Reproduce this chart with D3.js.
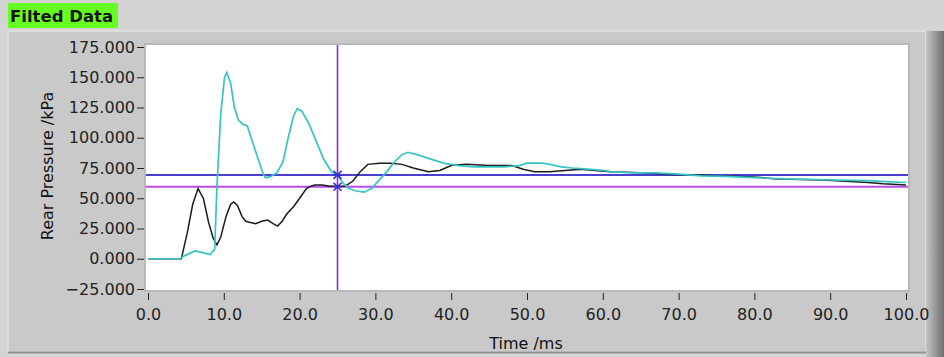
<!DOCTYPE html>
<html><head><meta charset="utf-8">
<script src="https://cdn.jsdelivr.net/npm/d3@7"></script>
<style>
html,body{margin:0;padding:0;background:#d3d3d3;}
svg{display:block;font-family:"DejaVu Sans",sans-serif;}
</style></head><body>
<svg id="c" width="944" height="357"></svg>
<script>
const title = "Filted Data";
const xLabel = "Time /ms";
const yLabel = "Rear Pressure /kPa";
const xTicks = [0,10,20,30,40,50,60,70,80,90,100];
const yTicks = [-25,0,25,50,75,100,125,150,175];
const cursorTime = 25;
const cursorHighA = 69.3;
const cursorLowB = 59.5;

const cyanT = [0,4.2,5,6.2,7.2,8.2,8.8,9.1,9.6,10.1,10.4,10.9,11.4,11.9,12.5,13.1,13.6,14.4,15.2,15.5,16.2,17,17.8,18.5,19.2,19.7,20.3,21.2,22.2,23.2,24.2,25,25.8,26.5,27.5,28.5,29.5,30.5,31.5,32.5,33.5,34.3,35.5,37,39,41,43,45,47,49,50,52,53,54.5,56,58,60,61,64,67,70,73,76,80,84,88,91,95,98,100];
const cyanV = [0,0,3,6.5,5,3.5,8,60,120,150,154,145,125,115,111,110,100,85,70,67,68,71,80,100,118,124,122,112,97,82,72,69,62,58,56,55,58,65,72,80,86,88,86,83,79,77,76,76,76,77,79,79,78,76,75,74,73,72,71,71,70,68.5,68,67,66,65.5,65,64.5,63.5,63];

const blackT = [0,4.4,5.2,5.9,6.6,7.3,8,8.6,9.1,9.6,10.3,10.9,11.3,11.8,12.4,12.9,13.5,14.2,15,15.8,16.5,17.1,17.7,18.3,19.2,20,20.9,21.5,22,23,24,25,26,27,28,29,30.5,32,33.5,35,37,38.5,40,42,45,48,49.5,51,53,55,57,59,61,63,65,68,70,72,75,78,80,83,86,89,92,95,97,100];
const blackV = [0,0,22,45,58,50,30,17,11.5,18,35,45,47,44,35,31,30,29,31,32,29,27,31,37,43,50,58,60,61,61,60,60,60,64,72,78,79,79,78,75,72,73,77,78,77,77,74,72,72,73,74,73,72,71.5,71,70,69.5,69.5,68.5,68,67.5,66,65.5,65,64,63,62,61];

const svg = d3.select("#c");
const W = 944, H = 357;
const plot = {l:146, r:908, t:45, b:290};

const defs = svg.append("defs");
const g1 = defs.append("linearGradient").attr("id","rbar").attr("x1","0").attr("x2","1");
g1.append("stop").attr("offset","0").attr("stop-color","#c4c4c4");
g1.append("stop").attr("offset","0.5").attr("stop-color","#9a9a9a");
g1.append("stop").attr("offset","1").attr("stop-color","#6e6e6e");

svg.append("rect").attr("x",0).attr("y",0).attr("width",W).attr("height",H).attr("fill","#d4d4d4");
svg.append("rect").attr("x",8).attr("y",31).attr("width",918).attr("height",321).attr("fill","#c9c9c9")
  .attr("stroke","#e2e2e2").attr("stroke-width",1.5);
svg.append("line").attr("x1",8).attr("x2",926).attr("y1",352.5).attr("y2",352.5).attr("stroke","#8f8f8f").attr("stroke-width",2);
svg.append("rect").attr("x",926).attr("y",31).attr("width",18).attr("height",326).attr("fill","url(#rbar)");

svg.append("rect").attr("x",8).attr("y",3).attr("width",110).attr("height",25).attr("fill","#66ff22");
svg.append("text").attr("x",10).attr("y",22).attr("font-size",16.5).attr("font-weight","bold").attr("fill","#111").text(title);

svg.append("rect").attr("x",plot.l-2).attr("y",plot.t-2).attr("width",plot.r-plot.l+4).attr("height",plot.b-plot.t+4).attr("fill","#b8b8b8");
svg.append("rect").attr("x",plot.l).attr("y",plot.t).attr("width",plot.r-plot.l).attr("height",plot.b-plot.t).attr("fill","#ffffff");

const x = d3.scaleLinear().domain([0,100]).range([148,906]);
const y = d3.scaleLinear().domain([-25,175]).range([289,47]);

const xAxis = d3.axisBottom(x).tickValues(xTicks).tickFormat(d3.format(".1f")).tickSize(7).tickSizeOuter(0);
const gx = svg.append("g").attr("transform",`translate(0,${plot.b+3})`).call(xAxis);
gx.select(".domain").remove();
gx.selectAll("line").attr("stroke","#222");
gx.selectAll("text").attr("font-size",16).attr("fill","#222").attr("font-family","DejaVu Sans").attr("y",27).attr("dy",0);

const yAxis = d3.axisLeft(y).tickValues(yTicks).tickFormat(d3.format(".3f")).tickSize(7).tickSizeOuter(0);
const gy = svg.append("g").attr("transform",`translate(${plot.l-2},0)`).call(yAxis);
gy.select(".domain").remove();
gy.selectAll("line").attr("stroke","#222");
gy.selectAll("text").attr("font-size",16).attr("fill","#222").attr("font-family","DejaVu Sans").attr("x",-9);

svg.append("text").attr("x",526).attr("y",349).attr("text-anchor","middle").attr("font-size",16).attr("fill","#111").text(xLabel);
svg.append("text").attr("transform","translate(53,166) rotate(-90)").attr("text-anchor","middle").attr("font-size",16).attr("fill","#111").text(yLabel);

defs.append("clipPath").attr("id","pc").append("rect").attr("x",plot.l).attr("y",plot.t).attr("width",plot.r-plot.l).attr("height",plot.b-plot.t);
const pg = svg.append("g").attr("clip-path","url(#pc)");

const line = d3.line().x(d=>x(d[0])).y(d=>y(d[1]));
const black = blackT.map((t,i)=>[t,blackV[i]]);
const cyan = cyanT.map((t,i)=>[t,cyanV[i]]);

pg.append("line").attr("x1",plot.l).attr("x2",plot.r).attr("y1",y(cursorHighA)).attr("y2",y(cursorHighA)).attr("stroke","#4a3fd0").attr("stroke-width",2);
pg.append("line").attr("x1",plot.l).attr("x2",plot.r).attr("y1",y(cursorLowB)).attr("y2",y(cursorLowB)).attr("stroke","#b84ee6").attr("stroke-width",2);

pg.append("path").datum(black).attr("d",line).attr("fill","none").attr("stroke","#1c1c1c").attr("stroke-width",1.5);
pg.append("path").datum(cyan).attr("d",line).attr("fill","none").attr("stroke","#36c4c8").attr("stroke-width",1.7);

pg.append("line").attr("x1",x(cursorTime)).attr("x2",x(cursorTime)).attr("y1",plot.t).attr("y2",plot.b).attr("stroke","#8a2be2").attr("stroke-width",1.6);

[cursorHighA,cursorLowB].forEach(v=>{
  const cx = x(cursorTime), cy = y(v);
  const s = 4;
  pg.append("path").attr("d",`M${cx-s},${cy-s}L${cx+s},${cy+s}M${cx-s},${cy+s}L${cx+s},${cy-s}M${cx-s},${cy}L${cx+s},${cy}`)
    .attr("stroke","#3a2fd0").attr("stroke-width",1.6).attr("fill","none");
});
</script>
</body></html>
